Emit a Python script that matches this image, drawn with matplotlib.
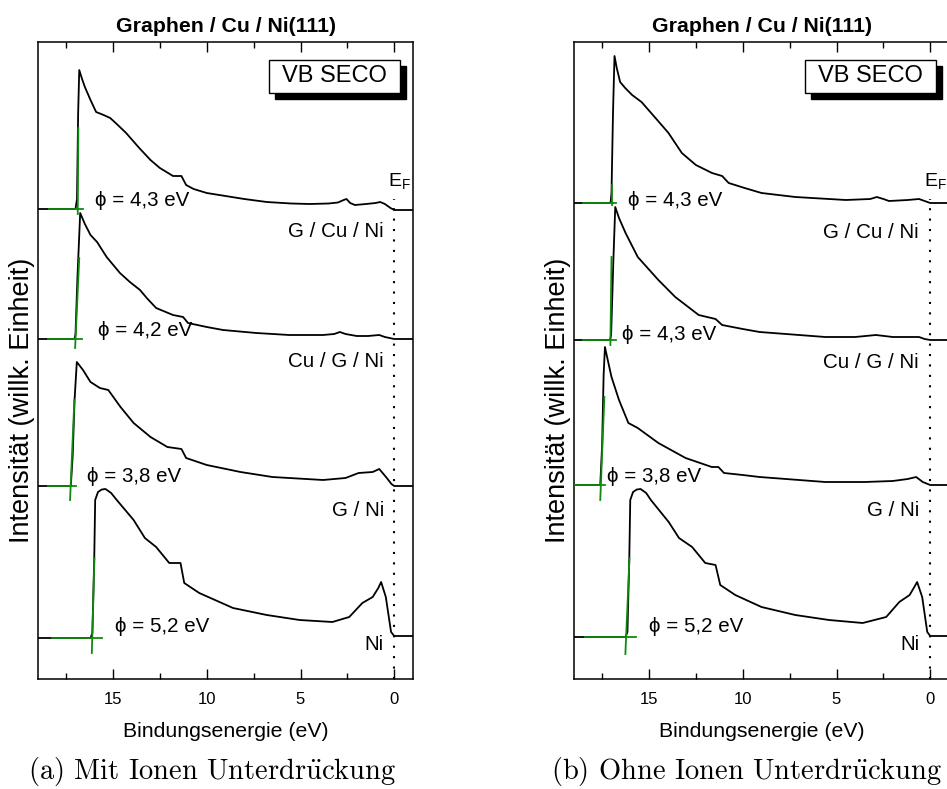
import numpy as np
import matplotlib
matplotlib.use('Agg')
import matplotlib.pyplot as plt
from matplotlib.patches import Rectangle

plt.rcParams['font.family'] = ['Liberation Sans', 'DejaVu Sans']
plt.rcParams['mathtext.fontset'] = 'custom'
plt.rcParams['mathtext.rm'] = 'Liberation Sans'

samples = ['G / Cu / Ni', 'Cu / G / Ni', 'G / Ni', 'Ni']

# ---- panel (a): mit Ionen-Unterdrueckung ----
phi_a = ['4,3', '4,2', '3,8', '5,2']
offset_a = [470, 340, 193, 41]

e_a1 = [19, 17.0, 16.92, 16.86, 16.8, 16.65, 16.5, 16.2, 15.9, 15.5, 15.15, 14.8, 14.3, 13.6, 13.0, 12.5,
        11.8, 11.35, 11.1, 10.7, 10.0, 9.0, 8.0, 6.8, 5.5, 4.5, 3.5, 3.0, 2.7, 2.55, 2.35, 2.1,
        1.5, 1.0, 0.75, 0.5, 0.2, 0.0, -1]
i_a1 = [0, 0, 10, 95, 139, 130, 122, 109, 97, 94, 91, 85, 76, 61, 49, 41,
        33, 33, 24, 20, 16, 13, 10, 7, 5.5, 5, 5.5, 6.5, 9, 10, 6, 4,
        5, 6, 7, 5, 1, -1, -1]

e_a2 = [19, 17.05, 17.0, 16.9, 16.75, 16.5, 16.2, 15.85, 15.34, 14.63, 14.1, 13.56, 13.2, 12.7,
        11.8, 11.26, 11.0, 10.0, 9.13, 7.36, 5.6, 3.8, 3.2, 2.9, 2.6, 2.0, 1.4, 0.8, 0.5, 0.0, -1]
i_a2 = [0, 0, 5, 60, 126, 115, 104, 97, 82, 66, 57, 49, 41, 31,
        24, 22, 16, 12, 9, 6, 4, 4, 5, 7, 5, 3, 3, 4, 2, 0, 0]

e_a3 = [19, 17.25, 17.15, 17.05, 16.93, 16.6, 16.2, 15.7, 15.25, 14.6, 13.9, 13.0, 12.1, 11.35,
        11.1, 10.0, 8.2, 6.5, 3.8, 2.6, 1.9, 1.15, 0.8, 0.44, 0.15, 0.0, -1]
i_a3 = [0, 0, 30, 86, 124, 116, 104, 98, 96, 79, 63, 49, 39, 37,
        28, 21, 14, 9, 6, 8, 13, 14, 17, 9, 2, 0, 0]

e_a4 = [19, 16.2, 16.1, 16.0, 15.95, 15.8, 15.6, 15.4, 15.1, 14.8, 13.9, 13.3, 12.7, 12.0, 11.4, 11.2, 10.4,
        8.6, 6.8, 5.05, 3.3, 2.4, 1.7, 1.15, 0.85, 0.7, 0.45, 0.17, 0.0, -1]
i_a4 = [0, 0, 5, 80, 138, 146, 148.5, 149, 145, 138, 118, 100, 91, 75, 75, 55, 45,
        30, 23, 18, 16, 21, 35, 41, 50, 56, 41, 6, 2, 2]

# linear fits of the cutoff edge (E_lo, I_lo, E_hi, I_hi) and of the background (E_start, E_end)
edge_a = [(16.88, -5, 16.85, 81), (17.02, -9, 16.8, 81), (17.29, -14, 17.06, 86), (16.13, -15, 15.99, 80)]
base_a = [(18.4, 16.6), (18.45, 16.65), (18.45, 17.0), (18.24, 15.59)]

# ---- panel (b): ohne Ionen-Unterdrueckung ----
phi_b = ['4,3', '4,3', '3,8', '5,2']
offset_b = [476, 339, 194, 42]

e_b1 = [19, 17.05, 17.0, 16.92, 16.84, 16.72, 16.54, 16.27, 15.9, 15.4, 14.7, 13.96, 13.25, 12.5,
        11.64, 11.1, 10.75, 9.9, 9.0, 7.2, 4.5, 3.2, 2.85, 2.5, 2.2, 1.2, 0.6, 0.3, 0.0, -1]
i_b1 = [0, 0, 10, 90, 147, 135, 121, 115, 108, 101, 86, 70, 50, 38,
        30, 27, 20, 15, 10, 6, 3, 4, 6, 4, 2, 3, 4, 2, 0, 0]

e_b2 = [19, 17.08, 17.02, 16.9, 16.8, 16.6, 16.25, 15.6, 14.5, 13.6, 12.35, 11.45, 11.1, 10.0,
        9.1, 7.0, 5.6, 4.0, 2.9, 2.0, 0.6, 0.3, 0.0, -1]
i_b2 = [0, 0, 5, 80, 133, 122, 107, 83, 60, 43, 25, 21, 15, 11,
        8, 5, 3, 3, 5, 3, 3, 1, 0, 0]

e_b3 = [19, 17.6, 17.5, 17.42, 17.35, 17.2, 17.0, 16.6, 16.1, 15.6, 14.5, 13.05, 11.65, 11.3,
        11.0, 10.0, 9.1, 7.0, 5.6, 3.5, 2.0, 1.2, 0.75, 0.4, 0.0, -1]
i_b3 = [0, 0, 40, 110, 138, 125, 108, 85, 62, 57, 42, 27, 18, 18,
        12, 10, 8, 5, 3, 3, 4, 6, 8, 3, 0, 0]

e_b4 = [19, 16.25, 16.15, 16.05, 16.0, 15.85, 15.65, 15.45, 15.15, 14.9, 13.95, 13.4, 12.7, 12.0, 11.45, 11.2,
        10.4, 9.0, 7.2, 5.4, 3.6, 2.35, 1.65, 1.1, 0.85, 0.7, 0.43, 0.16, 0.0, -1]
i_b4 = [0, 0, 5, 80, 137, 145, 147.5, 148, 144, 137, 115, 99, 90, 74, 72, 52,
        42, 30, 22, 17, 14, 20, 35, 42, 50, 55, 40, 5, 1, 1]

edge_b = [(17.0, -2, 17.0, 18), (17.06, -5, 17.0, 83), (17.6, -15, 17.38, 88), (16.26, -17, 16.04, 79)]
base_b = [(18.5, 16.74), (18.5, 16.74), (19.0, 17.33), (18.4, 15.7)]

GREEN = '#0f8a0f'


def draw_panel(ax, curves, offsets, edges, bases, phis, phi_pos, label_x, label_dy, caption, cap_x):
    for (e, i), off, edge, base in zip(curves, offsets, edges, bases):
        ax.plot(e, np.array(i) + off, color='black', lw=1.3, zorder=3)
        ax.plot(base, [off, off], color=GREEN, lw=1.3, zorder=4)
        ax.plot([edge[0], edge[2]], [off + edge[1], off + edge[3]], color=GREEN, lw=1.3, zorder=4)

    for off, phi, (px, py) in zip(offsets, phis, phi_pos):
        ax.text(px, off + py, '\u03d5 = ' + phi + ' eV', fontsize=14.8, ha='left', va='center')
    for off, name, dy in zip(offsets, samples, label_dy):
        ax.text(label_x, off + dy, name, fontsize=14.8, ha='right', va='center')

    # Fermi level
    ax.plot([0, 0], [0, 480], color='black', lw=1.5, ls=(0, (1, 4)), zorder=2)
    ax.text(0.32, 498, r'$\mathrm{E_F}$', fontsize=14, ha='left', va='center')

    ax.set_xlim(19, -1)
    ax.set_ylim(0, 637)
    ax.set_xticks([15, 10, 5, 0])
    ax.set_xticks([17.5, 12.5, 7.5, 2.5], minor=True)
    ax.set_yticks([])
    ax.tick_params(axis='x', which='both', direction='in', top=True, labelsize=12, pad=9)
    ax.tick_params(axis='x', which='major', length=7, width=1)
    ax.tick_params(axis='x', which='minor', length=4, width=1)
    for sp in ax.spines.values():
        sp.set_linewidth(1.1)

    # "VB SECO" box with drop shadow
    ax.add_patch(Rectangle((0.632, 0.911), 0.349, 0.052, transform=ax.transAxes,
                           facecolor='black', edgecolor='black', zorder=5, clip_on=False))
    ax.add_patch(Rectangle((0.616, 0.920), 0.349, 0.052, transform=ax.transAxes,
                           facecolor='white', edgecolor='black', lw=1, zorder=6, clip_on=False))
    ax.text(0.79, 0.946, 'VB SECO', transform=ax.transAxes, fontsize=17, ha='center', va='center', zorder=7)

    ax.set_title('Graphen / Cu / Ni(111)', fontsize=15.3, fontweight='bold', pad=7)
    ax.set_xlabel('Bindungsenergie (eV)', fontsize=15.3, labelpad=11)

    bb = ax.get_position()
    fig.text(bb.x0 - 16 / 947, 1 - 400 / 789, 'Intensität (willk. Einheit)', rotation=90,
             fontsize=19.5, ha='center', va='center')
    fig.text(cap_x, 1 - 772 / 789, caption, fontsize=20.5, ha='center', va='center',
             family='cmr10', math_fontfamily='cm')


fig = plt.figure(figsize=(9.47, 7.89), dpi=100)
ax_a = fig.add_axes([38 / 947, 1 - 679 / 789, 375 / 947, 637 / 789])
ax_b = fig.add_axes([574 / 947, 1 - 679 / 789, 375 / 947, 637 / 789])

draw_panel(ax_a, [(e_a1, i_a1), (e_a2, i_a2), (e_a3, i_a3), (e_a4, i_a4)], offset_a, edge_a, base_a,
           phi_a, [(15.96, 8), (15.8, 8), (16.4, 9), (14.9, 11)], 0.55, [-23, -23, -24, -7],
           r'(a) Mit Ionen Unterdr$\ddot{\mathrm{u}}$ckung', 212 / 947)
draw_panel(ax_b, [(e_b1, i_b1), (e_b2, i_b2), (e_b3, i_b3), (e_b4, i_b4)], offset_b, edge_b, base_b,
           phi_b, [(16.1, 2), (16.45, 5), (17.25, 8), (15.0, 10)], 0.6, [-30, -23, -25, -8],
           r'(b) Ohne Ionen Unterdr$\ddot{\mathrm{u}}$ckung', 747 / 947)

fig.savefig('out.png', dpi=100)
